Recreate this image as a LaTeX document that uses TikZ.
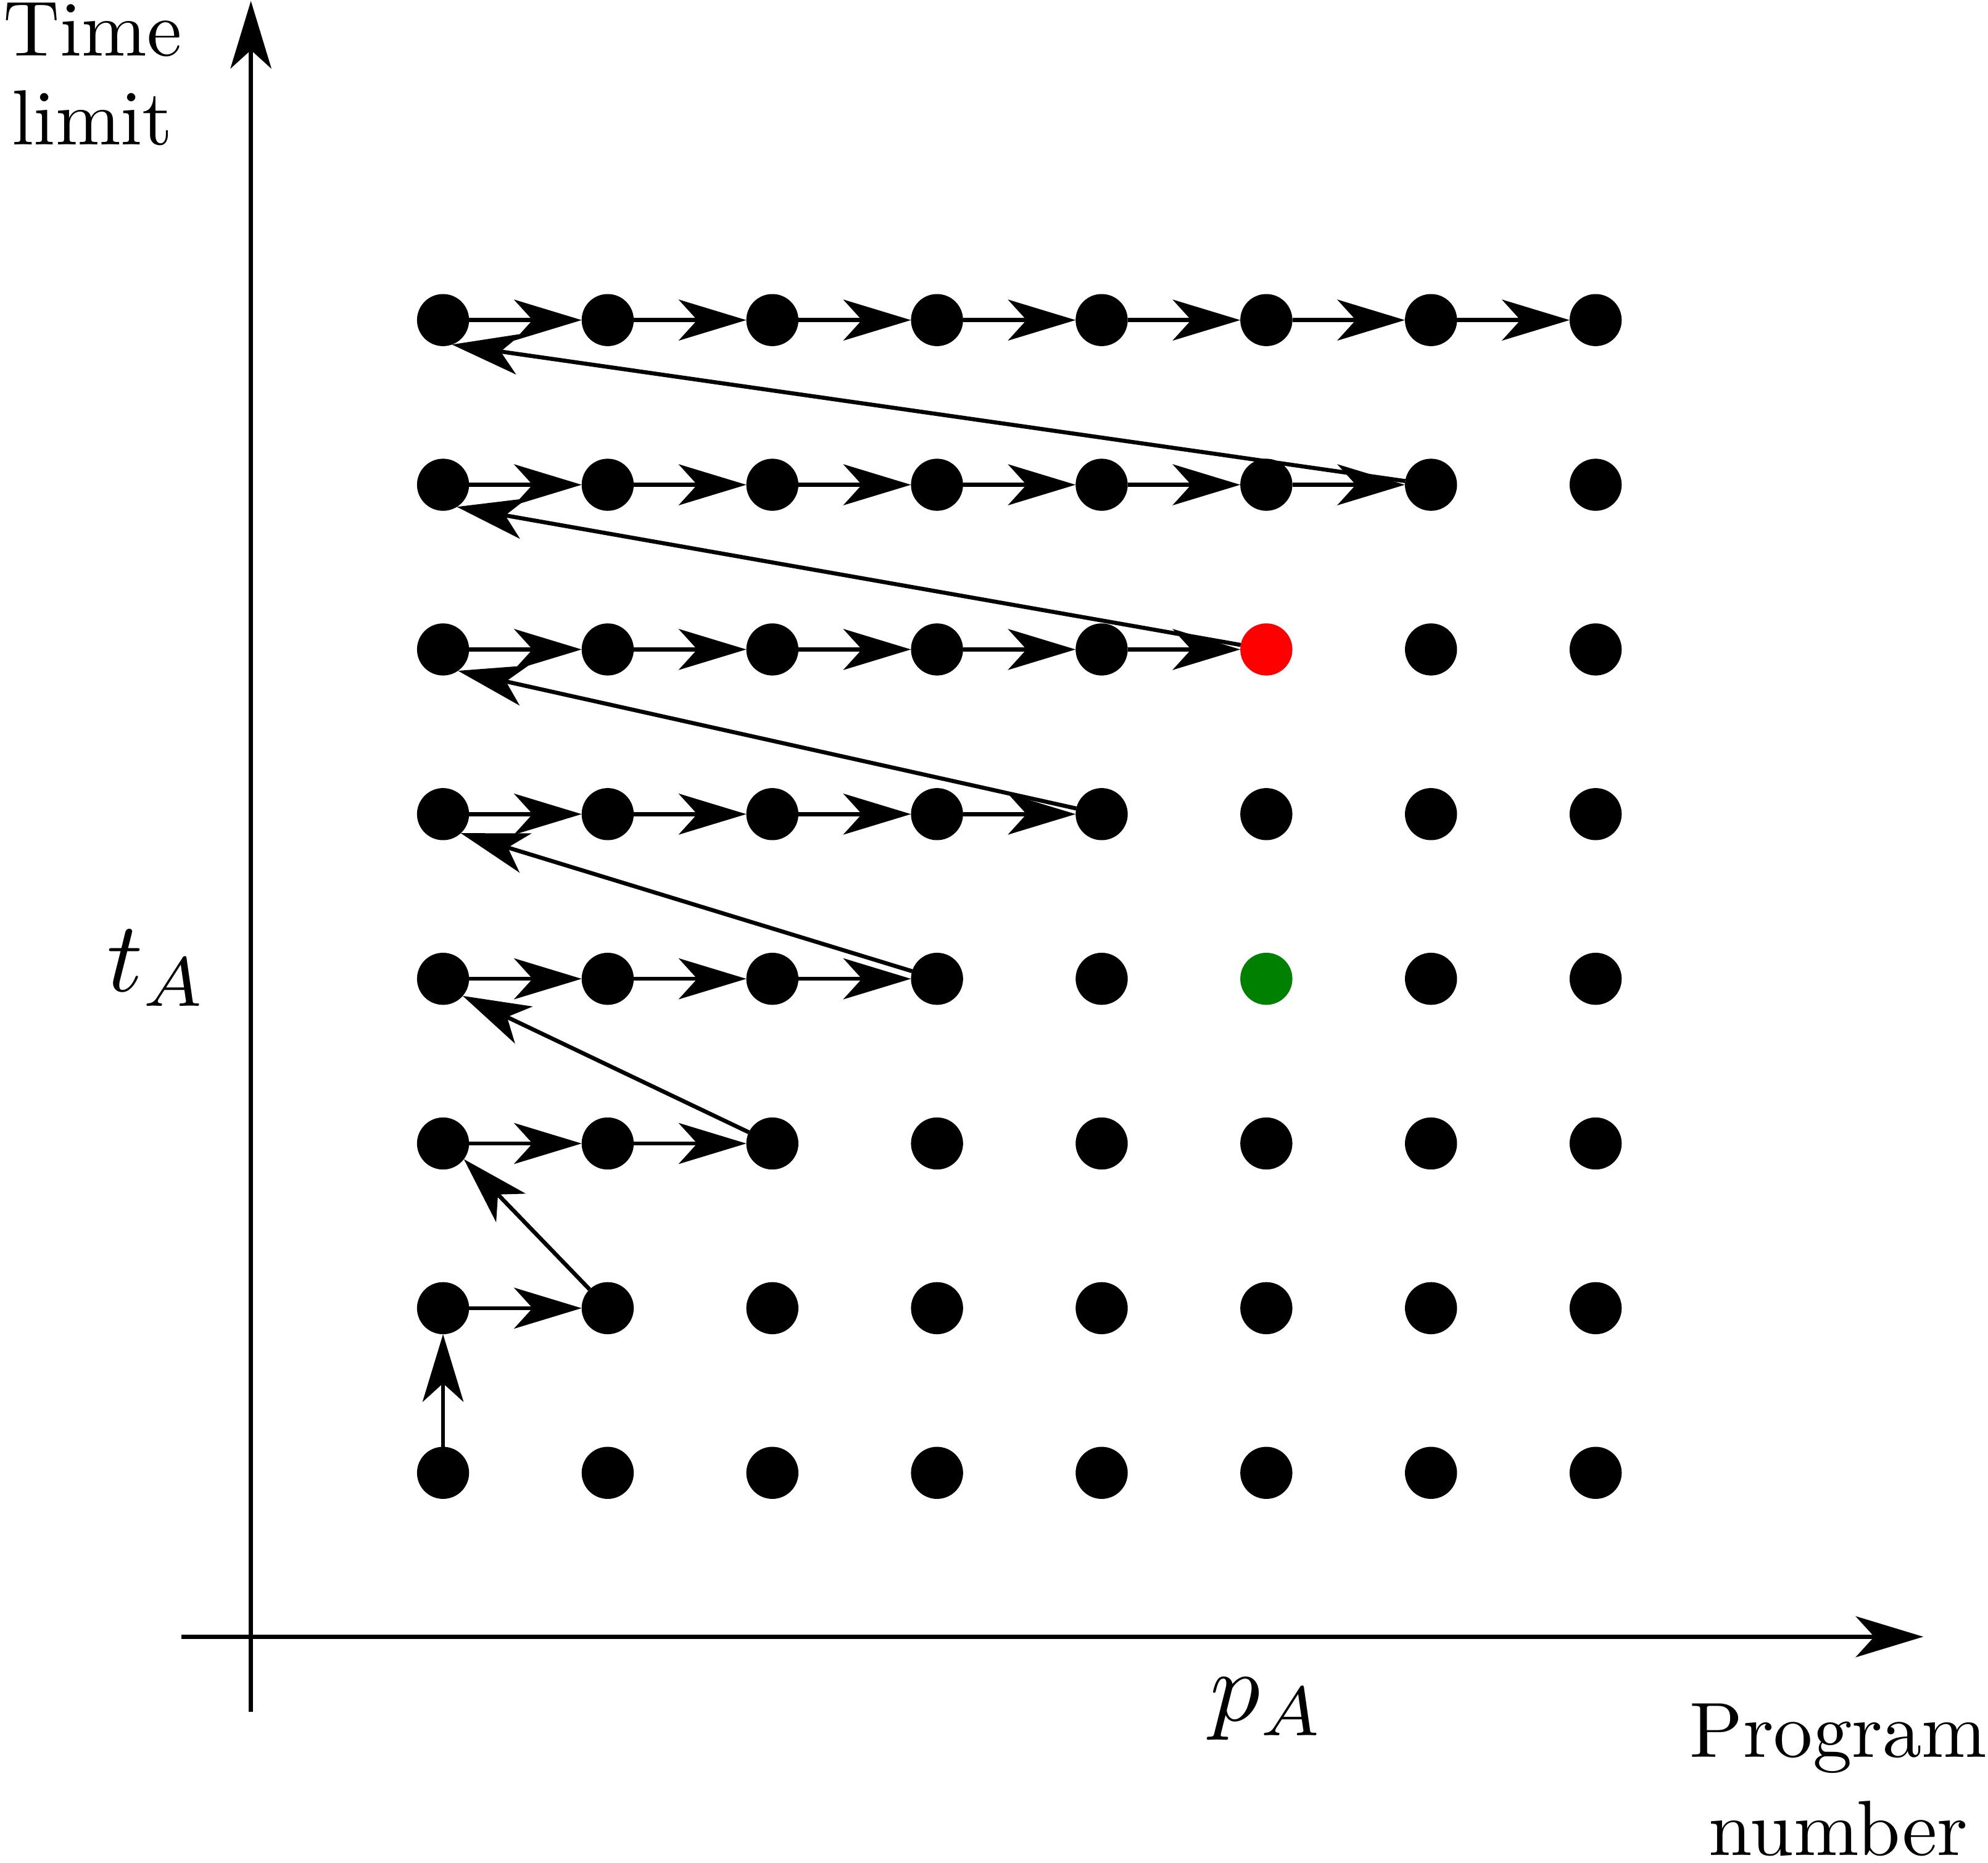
\documentclass[tikz,border=0pt]{standalone}
\usetikzlibrary{arrows.meta}
\definecolor{dkgreen}{RGB}{0,128,0}
\begin{document}
\begin{tikzpicture}[
  dot/.style={circle,fill=black,inner sep=0pt,outer sep=0pt,minimum size=0.316cm},
  arr/.style={-{Stealth[length=0.41cm,width=0.248cm,inset=0.112cm]},line width=0.7pt},
  lbl/.style={font=\fontsize{10}{11.4}\selectfont,scale=1.35,align=center,inner sep=0pt},
  mlbl/.style={font=\fontsize{10}{12}\selectfont,scale=1.72,inner sep=0pt,anchor=base west}
]
\useasboundingbox (0,0) rectangle (12.0615,11.3);
% axes
\coordinate (yb) at (1.5223,0.915);
\coordinate (yt) at (1.5223,11.294);
\coordinate (xl) at (1.1,1.3708);
\coordinate (xr) at (11.669,1.3708);
\draw[arr] (yb) -- (yt);
\draw[arr] (xl) -- (xr);
% grid of dots
\foreach \i in {0,...,7}{
  \foreach \j in {0,...,7}{
    \def\c{black}
    \ifnum\i=5 \ifnum\j=5 \def\c{red}\fi \ifnum\j=3 \def\c{dkgreen}\fi \fi
    \node[dot,fill=\c] (n-\i-\j) at (2.688+\i*0.999, 2.365+\j*0.999) {};
  }
}
% arrows along the rows
\draw[arr] (n-0-0) -- (n-0-1);
\foreach \j in {1,...,7}{
  \foreach \i in {1,...,\j}{
    \pgfmathtruncatemacro\im{\i-1}
    \draw[arr] (n-\im-\j) -- (n-\i-\j);
  }
}
% arrows back to the start of the next row
\foreach \j/\ang in {1/-37,2/-41,3/-47,4/-55,5/-58,6/-70}{
  \pgfmathtruncatemacro\jp{\j+1}
  \draw[arr] (n-\j-\j) -- (n-0-\jp.\ang);
}
% labels
\node[lbl,anchor=north] (tl) at (0.5615,11.292) {Time\\limit};
\node[lbl,anchor=north,font=\fontsize{10}{12.6}\selectfont] (pn) at (11.154,0.975) {Program\\number};
\node[mlbl] (ta) at (0.638,5.285) {$t_A$};
\node[mlbl] (pa) at (7.331,0.862) {$p_A$};
\end{tikzpicture}
\end{document}
